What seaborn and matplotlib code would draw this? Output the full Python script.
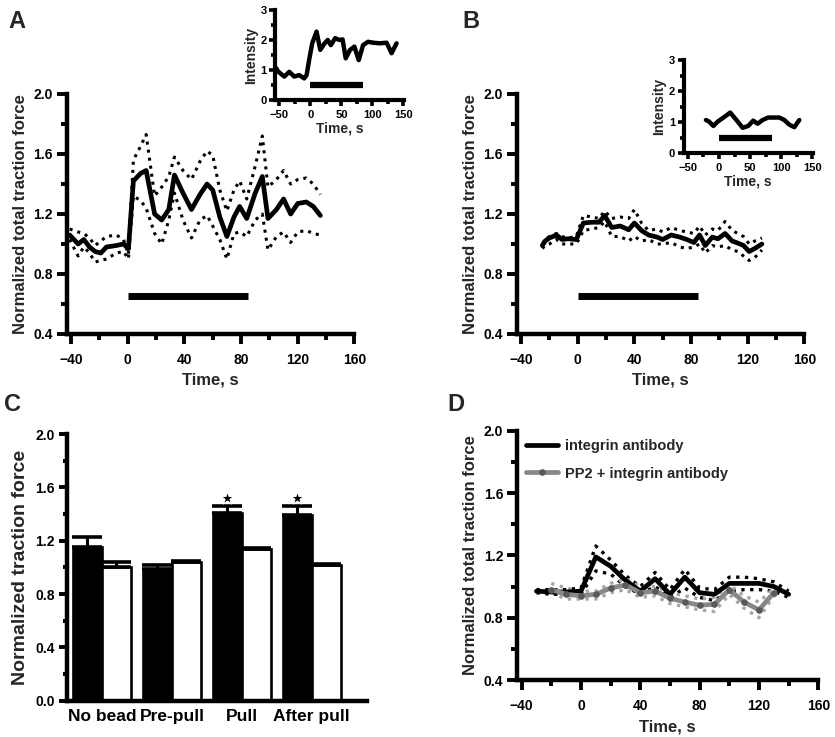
import numpy as np
import pandas as pd
import matplotlib
matplotlib.use("Agg")
import matplotlib.pyplot as plt
from matplotlib.ticker import MultipleLocator, FormatStrFormatter
import seaborn as sns

# ---- data ----
# panel A: traction force after integrin bead pull
a_time = [-41, -35, -31, -27, -23, -19, -15, -8, -3, 0.5, 4, 9, 13, 19, 24, 29, 33, 39, 45,
          51, 56, 60, 65, 70, 75, 79, 84, 90, 95, 99, 105, 110, 115, 120, 126, 131, 136]
a_mean = [1.06, 1.00, 1.03, 0.98, 0.95, 0.94, 0.98, 0.99, 1.00, 0.97, 1.42, 1.47, 1.49, 1.20,
          1.16, 1.23, 1.46, 1.34, 1.23, 1.33, 1.40, 1.36, 1.18, 1.05, 1.18, 1.25, 1.17, 1.34,
          1.45, 1.17, 1.23, 1.30, 1.20, 1.27, 1.28, 1.25, 1.19]
a_upper = [1.10, 1.08, 1.07, 1.04, 0.99, 1.02, 1.05, 1.06, 1.03, 0.93, 1.56, 1.65, 1.73, 1.32,
           1.38, 1.45, 1.58, 1.49, 1.43, 1.55, 1.62, 1.59, 1.36, 1.22, 1.36, 1.42, 1.30, 1.52,
           1.72, 1.38, 1.43, 1.49, 1.40, 1.43, 1.44, 1.40, 1.33]
a_lower = [1.03, 0.92, 0.98, 0.94, 0.88, 0.89, 0.90, 0.94, 0.95, 0.90, 1.32, 1.29, 1.24, 1.07,
           1.00, 1.16, 1.34, 1.16, 1.04, 1.16, 1.19, 1.12, 1.03, 0.90, 1.07, 1.08, 1.05, 1.16,
           1.20, 0.96, 1.05, 1.08, 1.01, 1.08, 1.09, 1.07, 1.06]

a_ins_time = [-55, -52, -42, -34, -26, -18, -10, -6, -2, 3, 10, 16, 23, 28, 33, 40, 47, 52, 57,
              64, 71, 78, 85, 93, 101, 112, 123, 131, 139]
a_ins_val = [1.06, 0.95, 0.78, 0.94, 0.78, 0.83, 0.72, 0.83, 1.33, 1.89, 2.28, 1.67, 1.89, 2.0,
             1.83, 2.06, 2.0, 2.02, 1.39, 1.67, 1.78, 1.33, 1.83, 1.94, 1.91, 1.89, 1.91, 1.56, 1.89]

# panel B
b_time = [-25, -23, -20, -15, -11, -7, -1, 4, 10, 15, 19, 24, 30, 36, 40, 45, 50, 56, 60, 66,
          72, 77, 82, 86, 90, 95, 99, 104, 109, 113, 117, 121, 125, 130]
b_mean = [0.99, 1.02, 1.04, 1.06, 1.03, 1.035, 1.03, 1.14, 1.145, 1.145, 1.19, 1.11, 1.12, 1.095,
          1.14, 1.09, 1.06, 1.046, 1.03, 1.06, 1.046, 1.03, 1.01, 1.06, 0.99, 1.046, 1.035, 1.07,
          1.02, 1.006, 0.99, 0.95, 0.97, 1.0]
b_upper = [1.00, 1.03, 1.05, 1.07, 1.05, 1.04, 1.05, 1.19, 1.18, 1.17, 1.22, 1.17, 1.18, 1.17,
           1.23, 1.14, 1.09, 1.10, 1.08, 1.11, 1.09, 1.08, 1.07, 1.12, 1.06, 1.10, 1.09, 1.15,
           1.09, 1.07, 1.05, 1.00, 1.02, 1.04]
b_lower = [0.97, 0.99, 1.00, 1.03, 1.00, 1.00, 1.00, 1.09, 1.10, 1.11, 1.15, 1.05, 1.05, 1.02,
           1.05, 1.02, 1.03, 1.00, 1.00, 1.01, 0.98, 0.97, 0.98, 1.00, 0.94, 0.99, 0.98, 0.99,
           0.96, 0.95, 0.92, 0.89, 0.91, 0.96]

b_ins_time = [-21, -16, -9, -2, 8, 18, 28, 38, 47, 55, 62, 70, 79, 89, 97, 105, 113, 121, 129]
b_ins_val = [1.07, 1.02, 0.88, 1.02, 1.16, 1.31, 1.07, 0.82, 0.88, 1.05, 0.95, 1.07, 1.15, 1.15,
             1.15, 1.07, 0.92, 0.84, 1.07]

# stimulus bar (pull period)
pull_start, pull_end = 0, 85
pull_level_main = 0.65
pull_level_inset = 0.5

# panel C
c_groups = ["No bead", "Pre-pull", "Pull", "After pull"]
c_black = [1.155, 0.99, 1.405, 1.39]
c_black_err = [0.07, 0.03, 0.055, 0.07]
c_white = [1.00, 1.04, 1.14, 1.02]
c_white_err = [0.04, 0.005, 0.005, 0.005]
c_star = [False, False, True, True]

# panel D
d_time_int = [-30, -20, -10, 0, 10, 20, 30, 40, 50, 60, 70, 80, 90, 100, 110, 120, 130, 140]
d_int_mean = [0.97, 0.965, 0.965, 0.97, 1.19, 1.13, 1.04, 0.97, 1.05, 0.95, 1.06, 0.96, 0.95,
              1.02, 1.02, 1.02, 1.00, 0.95]
d_int_upper = [0.98, 0.98, 0.98, 0.99, 1.26, 1.17, 1.07, 1.00, 1.09, 0.98, 1.11, 0.99, 0.98,
               1.06, 1.06, 1.05, 1.03, 0.97]
d_int_lower = [0.96, 0.95, 0.95, 0.95, 1.10, 1.08, 1.00, 0.95, 1.00, 0.93, 0.99, 0.93, 0.91,
               0.97, 0.98, 0.98, 0.97, 0.93]
d_time_pp2 = [-20, -10, 0, 10, 20, 30, 40, 50, 60, 70, 80, 90, 100, 110, 120, 130]
d_pp2_mean = [0.98, 0.95, 0.94, 0.95, 0.99, 1.01, 0.96, 0.97, 0.925, 0.90, 0.88, 0.886, 0.98,
              0.90, 0.85, 0.96]
d_pp2_upper = [1.02, 0.99, 0.97, 0.97, 1.02, 1.05, 1.00, 1.00, 0.96, 0.94, 0.92, 0.93, 1.01,
               0.94, 0.90, 0.99]
d_pp2_lower = [0.96, 0.92, 0.92, 0.92, 0.96, 0.98, 0.93, 0.94, 0.89, 0.87, 0.85, 0.84, 0.95,
               0.86, 0.80, 0.94]

# ---- style ----
sns.set_style("ticks")
plt.rcParams['font.family'] = ['Liberation Sans', 'DejaVu Sans']
plt.rcParams['font.weight'] = 'bold'
plt.rcParams['axes.labelweight'] = 'bold'
plt.rcParams['axes.edgecolor'] = 'black'
plt.rcParams['xtick.color'] = 'black'
plt.rcParams['ytick.color'] = 'black'

W, H = 835, 737
fig = plt.figure(figsize=(W / 100, H / 100), dpi=100)


def px_axes(left, top, right, bottom):
    return fig.add_axes([left / W, 1 - bottom / H, (right - left) / W, (bottom - top) / H])


def style_ax(ax, spine_w=3.2, tick_w=2.8, major=6, minor=3, size=10, xpad=7, ypad=3):
    sns.despine(ax=ax)
    for s in ['left', 'bottom']:
        ax.spines[s].set_linewidth(spine_w)
        ax.spines[s].set_color('black')
    ax.tick_params(which='major', length=major, width=tick_w, labelsize=size, direction='out')
    ax.tick_params(which='minor', length=minor, width=tick_w, direction='out')
    ax.tick_params(axis='x', which='major', pad=xpad)
    ax.tick_params(axis='y', which='major', pad=ypad)


def trace_panel(ax, t, mean, up, low):
    sns.lineplot(x=t, y=up, ax=ax, color='black', lw=2.2, linestyle=':', estimator=None, sort=False)
    sns.lineplot(x=t, y=low, ax=ax, color='black', lw=2.2, linestyle=':', estimator=None, sort=False)
    sns.lineplot(x=t, y=mean, ax=ax, color='black', lw=3.4, estimator=None, sort=False)
    sns.lineplot(x=[pull_start, pull_end], y=[pull_level_main, pull_level_main], ax=ax,
                 color='black', lw=5, solid_capstyle='butt')
    ax.set_xlim(-43, 160)
    ax.set_ylim(0.4, 2.0)
    ax.xaxis.set_major_locator(MultipleLocator(40))
    ax.xaxis.set_minor_locator(MultipleLocator(20))
    ax.yaxis.set_major_locator(MultipleLocator(0.4))
    ax.yaxis.set_minor_locator(MultipleLocator(0.2))
    ax.yaxis.set_major_formatter(FormatStrFormatter('%.1f'))
    ax.set_xlabel('Time, s', fontsize=12)
    ax.set_ylabel('Normalized total traction force', fontsize=12)
    style_ax(ax, major=7, minor=4)


def inset_panel(ax, t, v):
    sns.lineplot(x=t, y=v, ax=ax, color='black', lw=3.2, estimator=None, sort=False)
    sns.lineplot(x=[pull_start, pull_end], y=[pull_level_inset, pull_level_inset], ax=ax,
                 color='black', lw=4.5, solid_capstyle='butt')
    ax.set_xlim(-57, 151)
    ax.set_ylim(0, 3)
    ax.xaxis.set_major_locator(MultipleLocator(50))
    ax.xaxis.set_minor_locator(MultipleLocator(25))
    ax.yaxis.set_major_locator(MultipleLocator(1))
    ax.yaxis.set_minor_locator(MultipleLocator(0.5))
    ax.set_xlabel('Time, s', fontsize=10, labelpad=1)
    ax.set_ylabel('Intensity', fontsize=10, labelpad=2)
    style_ax(ax, spine_w=3.0, tick_w=2.6, major=4, minor=3, size=8, xpad=3, ypad=2)


# ---- panel A ----
axA = px_axes(66.8, 94, 354.4, 334)
trace_panel(axA, a_time, a_mean, a_upper, a_lower)
insA = px_axes(275, 10, 404, 100)
inset_panel(insA, a_ins_time, a_ins_val)

# ---- panel B ----
axB = px_axes(516.8, 94, 804.4, 334)
trace_panel(axB, b_time, b_mean, b_upper, b_lower)
insB = px_axes(683.5, 60, 813, 153.3)
inset_panel(insB, b_ins_time, b_ins_val)

# ---- panel C ----
axC = px_axes(67, 434, 367, 700.7)
df_c = pd.DataFrame({
    'group': c_groups * 2,
    'cond': ['bead'] * 4 + ['control'] * 4,
    'value': c_black + c_white,
})
sns.barplot(data=df_c, x='group', y='value', hue='cond', order=c_groups,
            palette={'bead': 'black', 'control': 'white'}, edgecolor='black', linewidth=1.9,
            errorbar=None, width=0.83, legend=False, ax=axC)
for cont, errs, means in zip(axC.containers, [c_black_err, c_white_err], [c_black, c_white]):
    for bar, e, m in zip(cont, errs, means):
        xc = bar.get_x() + bar.get_width() / 2
        axC.errorbar(xc, m, yerr=[[0], [e]], color='black', lw=2.2, capsize=10.5, capthick=2.6, zorder=4)
star_x = [b.get_x() + b.get_width() / 2 for b, s in zip(axC.containers[0], c_star) if s]
star_y = [m + e + 0.06 for m, e, s in zip(c_black, c_black_err, c_star) if s]
sns.scatterplot(x=star_x, y=star_y, marker='*', s=95, color='black', ax=axC, zorder=5)
axC.set_xlim(-0.5, 3.79)
axC.set_ylim(0, 2.0)
axC.yaxis.set_major_locator(MultipleLocator(0.4))
axC.yaxis.set_minor_locator(MultipleLocator(0.2))
axC.yaxis.set_major_formatter(FormatStrFormatter('%.1f'))
axC.set_xlabel('')
axC.set_ylabel('Normalized traction force', fontsize=14)
style_ax(axC, major=6, minor=3)
axC.tick_params(axis='x', length=0, labelsize=12.5, pad=6)

# ---- panel D ----
axD = px_axes(517.2, 430.7, 818.3, 680)
sns.lineplot(x=d_time_int, y=d_int_upper, ax=axD, color='black', lw=2.4, linestyle=':', estimator=None)
sns.lineplot(x=d_time_int, y=d_int_lower, ax=axD, color='black', lw=2.4, linestyle=':', estimator=None)
sns.lineplot(x=d_time_pp2, y=d_pp2_upper, ax=axD, color='#a6a6a6', lw=2.4, linestyle=':', estimator=None)
sns.lineplot(x=d_time_pp2, y=d_pp2_lower, ax=axD, color='#a6a6a6', lw=2.4, linestyle=':', estimator=None)
sns.lineplot(x=d_time_int, y=d_int_mean, ax=axD, color='black', lw=3.4, estimator=None,
             label='integrin antibody')
sns.lineplot(x=d_time_pp2, y=d_pp2_mean, ax=axD, color='#888888', lw=3.4, estimator=None,
             marker='o', markersize=4, markerfacecolor='#5a5a5a', markeredgecolor='#5a5a5a',
             label='PP2 + integrin antibody')
axD.set_xlim(-43, 160)
axD.set_ylim(0.4, 2.0)
axD.xaxis.set_major_locator(MultipleLocator(40))
axD.xaxis.set_minor_locator(MultipleLocator(20))
axD.yaxis.set_major_locator(MultipleLocator(0.4))
axD.yaxis.set_minor_locator(MultipleLocator(0.2))
axD.yaxis.set_major_formatter(FormatStrFormatter('%.1f'))
axD.set_xlabel('Time, s', fontsize=12)
axD.set_ylabel('Normalized total traction force', fontsize=12)
style_ax(axD, major=7, minor=4)
axD.legend(loc='upper left', frameon=False, prop={'weight': 'bold', 'size': 10.5},
           handlelength=2.2, handletextpad=0.5, labelspacing=0.9, borderaxespad=0.2)

# panel letters
for letter, x, y in [('A', 8, 10), ('B', 462, 10), ('C', 4, 393), ('D', 447, 393)]:
    fig.text(x / W, 1 - y / H, letter, fontsize=17, fontweight='bold', ha='left', va='top')

fig.savefig('out.png', dpi=100)
